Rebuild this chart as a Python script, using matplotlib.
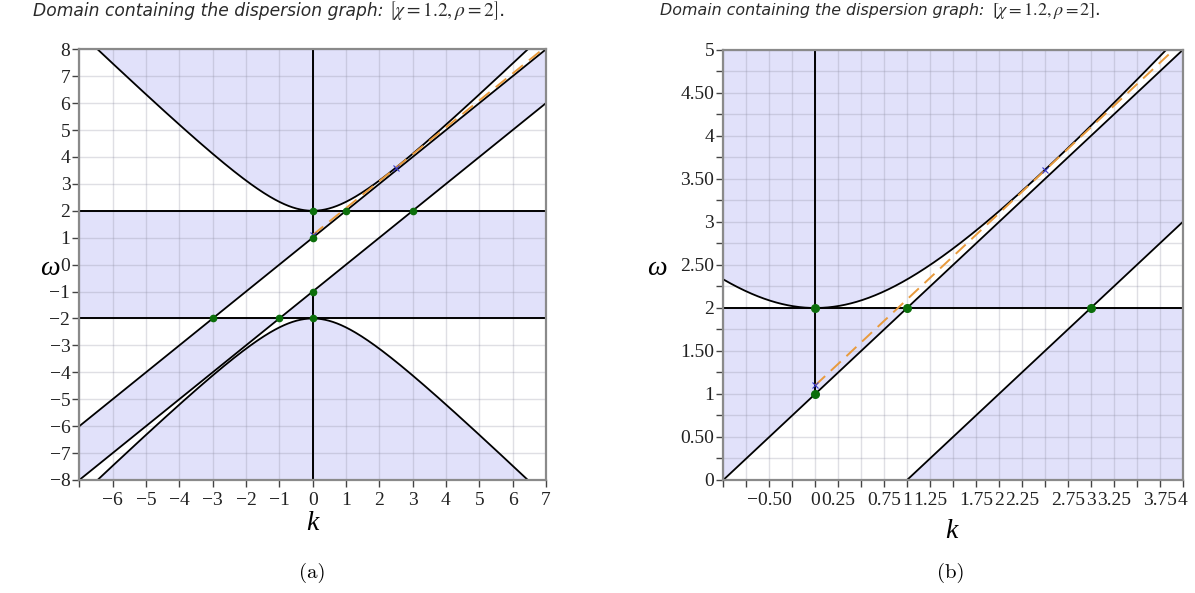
import numpy as np
import matplotlib
matplotlib.use("Agg")
import matplotlib.pyplot as plt
from matplotlib.ticker import FixedLocator, FixedFormatter

plt.rcParams['mathtext.fontset'] = 'stix'

# dispersion parameters
chi = 1.2
rho = 2.0

# light-cone lines w = k + c and the levels w = +-rho
line_offsets = [1.0, -1.0]
level_values = [2.0, -2.0]

# marked points, panel (a)
pts_a_k = [0, 1, 3, 0, 0, -1, -3, 0]
pts_a_w = [2, 2, 2, 1, -1, -2, -2, -2]
# marked points, panel (b)
pts_b_k = [0, 0, 1, 3]
pts_b_w = [2, 1, 2, 2]

# group-velocity chord through the two crosses
cross_k = [0.0, 2.5]
cross_w = [1.1, 3.6]

# k = 0 segments
vseg_a = [(1, 8), (-8, -1)]
vseg_b = [(1, 5)]

# axis ranges
range_a_k = (-7, 7)
range_a_w = (-8, 8)
range_b_k = (-1, 4)
range_b_w = (0, 5)

# tick labels
ticks_a_k = list(range(-7, 8))
labels_a_k = [''] + [str(v).replace('-', '\u2212') for v in range(-6, 8)]
ticks_a_w = list(range(-8, 9))
labels_a_w = [str(v).replace('-', '\u2212') for v in range(-8, 9)]

ticks_b_k = [-1 + 0.25 * i for i in range(21)]
labels_b_k = ['', '', '\u22120.50', '', '0', '0.25', '', '0.75', '1', '1.25', '',
              '1.75', '2', '2.25', '', '2.75', '3', '3.25', '', '3.75', '4']
ticks_b_w = [0.25 * i for i in range(21)]
labels_b_w = ['0', '', '0.50', '', '1', '', '1.50', '', '2', '', '2.50', '',
              '3', '', '3.50', '', '4', '', '4.50', '', '5']

SHADE = '#e1e1fa'
GREEN = '#0b6e0b'
ORANGE = '#e89a3c'
CROSS = '#3a3ac8'
SERIF = 'Liberation Serif'
W_PX, H_PX = 1195, 593


def upper_branch(k):
    return np.sqrt(chi ** 2 * k ** 2 + rho ** 2)


def shade_domain(ax, krange, wrange):
    k = np.linspace(krange[0], krange[1], 1400)
    w = np.linspace(wrange[0], wrange[1], 1400)
    K, W = np.meshgrid(k, w)
    between = (W > K + min(line_offsets)) & (W < K + max(line_offsets))
    outside = np.abs(W) > upper_branch(K)
    high = np.abs(W) > max(level_values)
    mask = np.where(high, outside | between, ~between).astype(float)
    ax.contourf(K, W, mask, levels=[0.5, 1.5], colors=[SHADE], zorder=0,
                antialiased=True)


def style_axes(ax, krange, wrange, kt, kl, wt, wl, fs):
    ax.set_xlim(*krange)
    ax.set_ylim(*wrange)
    ax.xaxis.set_major_locator(FixedLocator(kt))
    ax.xaxis.set_major_formatter(FixedFormatter(kl))
    ax.yaxis.set_major_locator(FixedLocator(wt))
    ax.yaxis.set_major_formatter(FixedFormatter(wl))
    ax.set_axisbelow(False)
    ax.grid(True, color='#8c8ca0', alpha=0.28, linewidth=1.0)
    for s in ax.spines.values():
        s.set_color('#8a8a8a')
        s.set_linewidth(1.6)
        s.set_zorder(6)
    ax.tick_params(direction='out', length=5, width=1.0, color='#444444')
    ax.tick_params(axis='x', pad=4)
    ax.tick_params(axis='y', pad=1.5)
    for lab in ax.get_xticklabels() + ax.get_yticklabels():
        lab.set_fontfamily(SERIF)
        lab.set_fontsize(fs)
        lab.set_color('#222222')


def draw_panel(ax, krange, wrange, both_branches, vsegs, pk, pw, msize):
    shade_domain(ax, krange, wrange)
    k = np.linspace(krange[0], krange[1], 800)
    ax.plot(k, upper_branch(k), color='black', lw=1.3, zorder=3)
    if both_branches:
        ax.plot(k, -upper_branch(k), color='black', lw=1.3, zorder=3)
    for c in line_offsets:
        ax.plot(k, k + c, color='black', lw=1.3, zorder=3)
    for lv in level_values:
        ax.axhline(lv, color='black', lw=1.4, zorder=3)
    for lo, hi in vsegs:
        ax.plot([0, 0], [lo, hi], color='black', lw=1.4, zorder=3)
    slope = (cross_w[1] - cross_w[0]) / (cross_k[1] - cross_k[0])
    kd = np.linspace(cross_k[0], krange[1], 200)
    ax.plot(kd, cross_w[0] + slope * (kd - cross_k[0]), color=ORANGE, lw=1.4,
            dashes=(7, 4), zorder=4)
    ax.plot(cross_k, cross_w, linestyle='none', marker='x', color=CROSS,
            markersize=5, markeredgewidth=0.8, zorder=5)
    ax.plot(pk, pw, linestyle='none', marker='o', color=GREEN,
            markersize=msize, zorder=5)


def fitted_text(fig, renderer, x_px, y_px, s, width_px, **kw):
    """Place left-aligned text and scale its font so it spans width_px."""
    t = fig.text(x_px / W_PX, 1 - y_px / H_PX, s, ha='left', va='center', **kw)
    w = t.get_window_extent(renderer).width
    t.set_fontsize(t.get_fontsize() * width_px / w)
    return t


fig = plt.figure(figsize=(W_PX / 100, H_PX / 100), dpi=100)
ax_a = fig.add_axes([0.0664, 0.1906, 0.3905, 0.7263])
ax_b = fig.add_axes([0.6053, 0.1906, 0.3844, 0.7251])

draw_panel(ax_a, range_a_k, range_a_w, True, vseg_a, pts_a_k, pts_a_w, 4.5)
style_axes(ax_a, range_a_k, range_a_w, ticks_a_k, labels_a_k, ticks_a_w, labels_a_w, 14)

draw_panel(ax_b, range_b_k, range_b_w, False, vseg_b, pts_b_k, pts_b_w, 5.5)
style_axes(ax_b, range_b_k, range_b_w, ticks_b_k, labels_b_k, ticks_b_w, labels_b_w, 14)

# panel titles: sans oblique caption followed by the parameter set
renderer = fig.canvas.get_renderer()
caption = 'Domain containing the dispersion graph:'
params = '$\\left[\\chi = 1.2, \\rho = 2\\right]$.'
for x0, w_cap, xp, fs_par in [(33, 349, 389, 14.0), (660, 323, 992, 13.0)]:
    fitted_text(fig, renderer, x0, 11, caption, w_cap, fontsize=12,
                style='italic', color='#2a2a2a')
    fig.text(xp / W_PX, 1 - 11 / H_PX, params, ha='left', va='center',
             fontsize=fs_par, color='#2a2a2a')

for x, y in [(50, 268), (657, 268)]:
    fig.text(x / W_PX, 1 - y / H_PX, '\u03c9', ha='center', va='center',
             fontsize=20, family=SERIF, style='italic')
for x, y in [(312, 523), (951, 532)]:
    fig.text(x / W_PX, 1 - y / H_PX, 'k', ha='center', va='center',
             fontsize=20, family=SERIF, style='italic')
for x, lab in [(312, '(a)'), (951, '(b)')]:
    fig.text(x / W_PX, 1 - 573 / H_PX, lab, ha='center', va='center',
             fontsize=15, family='cmr10')

fig.savefig('out.png', dpi=100)
